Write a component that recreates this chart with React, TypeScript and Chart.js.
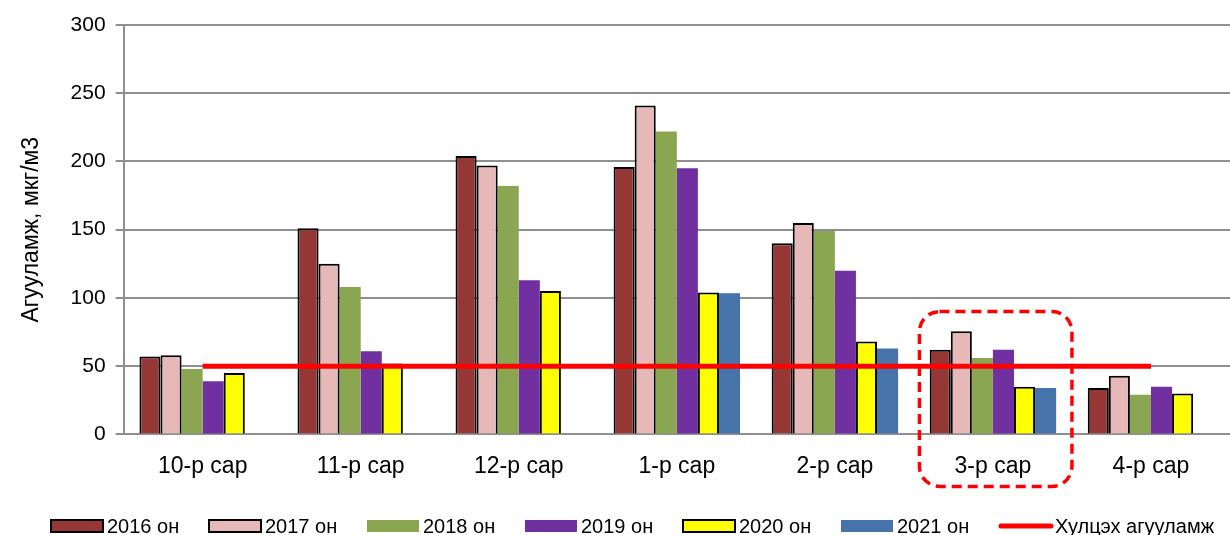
import React, { useEffect, useRef } from 'react';
import { Chart, registerables } from 'chart.js';

Chart.register(...registerables);

const categories = ['10-р сар', '11-р сар', '12-р сар', '1-р сар', '2-р сар', '3-р сар', '4-р сар'];
const values2016 = [57, 151, 204, 196, 140, 62, 34];
const values2017 = [58, 125, 197, 241, 155, 75.5, 43];
const values2018 = [48, 108, 182, 222, 149, 56, 29];
const values2019 = [39, 61, 113, 195, 120, 62, 35];
const values2020 = [45, 52, 105, 104, 68, 35, 30];
const values2021 = [null, null, null, 103.5, 63, 34, null];
const limitValue = 50;
const limitValues = categories.map(() => limitValue);
const seriesLabels = ['2016 он', '2017 он', '2018 он', '2019 он', '2020 он', '2021 он'];
const limitLabel = 'Хулцэх агууламж';
const yTickValues = [0, 50, 100, 150, 200, 250, 300];
const yAxisTitle = 'Агууламж, мкг/м3';
const highlightCategory = '3-р сар';
const highlightTopValue = 90;

const FONT = "'Liberation Sans', Arial, sans-serif";
const seriesValues = [values2016, values2017, values2018, values2019, values2020, values2021];
const seriesColors = ['#953735', '#E6B9B8', '#8AA650', '#7030A0', '#FFFF00', '#4673A9'];
const seriesBorder = [2, 2, 0, 0, 2, 0];

const highlightPlugin = {
  id: 'highlightBox',
  afterDraw(chart: any) {
    const xs = chart.scales.x;
    const ys = chart.scales.y;
    const idx = categories.indexOf(highlightCategory);
    const cx = xs.getPixelForValue(idx);
    const cw = (xs.right - xs.left) / categories.length;
    const left = cx - cw * 0.465;
    const right = cx + cw * 0.5;
    const top = ys.getPixelForValue(highlightTopValue);
    const bottom = ys.getPixelForValue(0) + 52;
    const r = 20;
    const ctx = chart.ctx;
    ctx.save();
    ctx.strokeStyle = '#FF0000';
    ctx.lineWidth = 3.5;
    ctx.setLineDash([10, 6]);
    ctx.beginPath();
    ctx.roundRect(left, top, right - left, bottom - top, r);
    ctx.stroke();
    ctx.restore();
  },
};

const legendPlugin = {
  id: 'customLegend',
  afterDraw(chart: any) {
    const ctx = chart.ctx;
    const x0 = 51;
    const step = 158;
    const cy = chart.height - 9;
    const bw = 52;
    const bh = 12;
    ctx.save();
    ctx.font = `20px ${FONT}`;
    ctx.textBaseline = 'middle';
    ctx.textAlign = 'left';
    const items = [...seriesLabels, limitLabel];
    items.forEach((label, i) => {
      const x = x0 + i * step;
      if (i < seriesLabels.length) {
        ctx.fillStyle = seriesColors[i];
        ctx.fillRect(x, cy - bh / 2, bw, bh);
        if (seriesBorder[i]) {
          ctx.strokeStyle = '#000';
          ctx.lineWidth = 2;
          ctx.strokeRect(x, cy - bh / 2, bw, bh);
        }
      } else {
        ctx.strokeStyle = '#FF0000';
        ctx.lineWidth = 5;
        ctx.lineCap = 'round';
        ctx.beginPath();
        ctx.moveTo(x + 2, cy);
        ctx.lineTo(x + bw, cy);
        ctx.stroke();
      }
      ctx.fillStyle = '#000';
      ctx.fillText(label, x + bw + 4, cy + 1);
    });
    ctx.restore();
  },
};

export default function App() {
  const ref = useRef<HTMLCanvasElement>(null);
  useEffect(() => {
    const datasets: any[] = seriesLabels.map((label, i) => ({
      type: 'bar',
      label,
      data: seriesValues[i],
      backgroundColor: seriesColors[i],
      borderColor: '#000000',
      borderWidth: seriesBorder[i],
      barPercentage: 1,
      categoryPercentage: 0.8,
      order: 1,
    }));
    datasets.push({
      type: 'line',
      label: limitLabel,
      data: limitValues,
      borderColor: '#FF0000',
      backgroundColor: '#FF0000',
      borderWidth: 5,
      pointRadius: 0,
      fill: false,
      order: 0,
    });
    const chart = new Chart(ref.current!, {
      type: 'bar',
      data: { labels: categories, datasets },
      options: {
        animation: false,
        responsive: true,
        maintainAspectRatio: false,
        layout: { padding: { left: 18, right: 0, top: 25, bottom: 37 } },
        plugins: {
          legend: { display: false },
          tooltip: { enabled: false },
        },
        scales: {
          x: {
            grid: { display: false, drawTicks: false },
            border: { display: true, color: '#8f8f8f', width: 2 },
            ticks: { color: '#000', font: { family: FONT, size: 23 }, padding: 18 },
          },
          y: {
            min: 0,
            max: 300,
            afterBuildTicks: (scale: any) => {
              scale.ticks = yTickValues.map((v) => ({ value: v }));
            },
            grid: { color: '#8f8f8f', lineWidth: 2, tickLength: 8, drawTicks: true },
            border: { display: true, color: '#8f8f8f', width: 2 },
            ticks: { color: '#000', font: { family: FONT, size: 21 }, padding: 10 },
            title: {
              display: true,
              text: yAxisTitle,
              color: '#000',
              font: { family: FONT, size: 23 },
              padding: { top: 0, bottom: 15 },
            },
          },
        },
      },
      plugins: [highlightPlugin, legendPlugin],
    });
    return () => chart.destroy();
  }, []);
  return (
    <div style={{ position: 'fixed', left: 0, top: 0, width: 1230, height: 535, background: '#fff' }}>
      <canvas ref={ref} />
    </div>
  );
}
